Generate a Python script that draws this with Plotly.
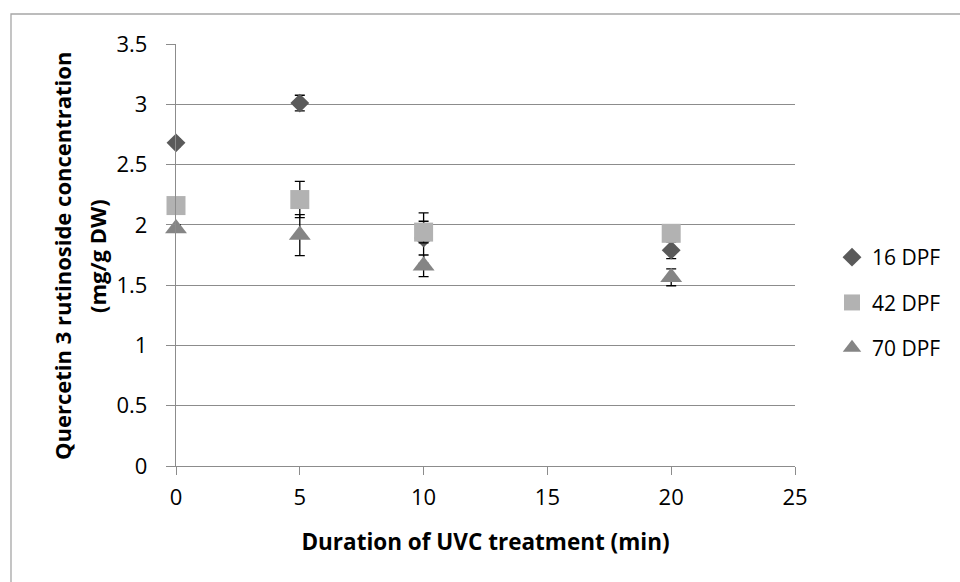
import plotly.graph_objects as go

# ---- data ----
durations = [0, 5, 10, 20]
series_names = ["16 DPF", "42 DPF", "70 DPF"]
dpf16 = [2.68, 3.01, 1.89, 1.79]
dpf16_err = [0.03, 0.065, 0.21, 0.07]
dpf42 = [2.16, 2.21, 1.94, 1.93]
dpf42_err = [0.03, 0.15, 0.09, 0.03]
dpf70 = [1.97, 1.915, 1.66, 1.565]
dpf70_err = [0.03, 0.17, 0.09, 0.07]
y_ticks = [0, 0.5, 1, 1.5, 2, 2.5, 3, 3.5]
x_ticks = [0, 5, 10, 15, 20, 25]
x_title = "Duration of UVC treatment (min)"
y_title_lines = ["Quercetin 3 rutinoside concentration", "(mg/g DW)"]

FONT = "Open Sans"
W, H = 960, 582
L, R, T, B = 176, 165, 44, 116
PW, PH = W - L - R, H - T - B


def px_x(p):
    return (p - L) / PW


def px_y(p):
    return (H - B - p) / PH


styles = [
    dict(symbol="diamond", size=14.5, color="#5a5a5a"),
    dict(symbol="square", size=19, color="#b2b2b2"),
    dict(symbol="triangle-up", size=19, color="#858585"),
]
values = [dpf16, dpf42, dpf70]
errors = [dpf16_err, dpf42_err, dpf70_err]

fig = go.Figure()
for name, vals, errs, st in zip(series_names, values, errors, styles):
    fig.add_trace(go.Scatter(
        x=durations, y=vals, name=name, mode="markers",
        legendgroup=name, cliponaxis=False,
        marker=dict(symbol=st["symbol"], size=st["size"], color=st["color"],
                    line=dict(width=0)),
        error_y=dict(type="data", array=errs, visible=True,
                     color="#000000", thickness=1.3, width=5),
    ))

axis_color = "#8c8c8c"
fig.update_layout(
    width=W, height=H,
    margin=dict(l=L, r=R, t=T, b=B, pad=0),
    paper_bgcolor="white", plot_bgcolor="white",
    font=dict(family=FONT, size=21, color="#000000"),
    showlegend=True,
    legend=dict(x=px_x(832), y=px_y(237), xanchor="left", yanchor="top",
                traceorder="grouped", tracegroupgap=15,
                font=dict(family=FONT, size=21, color="#000000"),
                bgcolor="rgba(0,0,0,0)", borderwidth=0),
    xaxis=dict(range=[0, 25], tickvals=x_ticks, showgrid=False, zeroline=False,
               showline=True, linecolor=axis_color, linewidth=1.3,
               ticks="outside", ticklen=8, tickcolor=axis_color, tickwidth=1.3,
               tickfont=dict(family=FONT, size=22, color="#000000"),
               ticklabelstandoff=3,
               title=dict(text="<b>" + x_title + "</b>", standoff=24,
                          font=dict(family=FONT, size=22.5, color="#000000"))),
    yaxis=dict(range=[0, 3.5], tickvals=y_ticks, showgrid=True, gridcolor=axis_color,
               gridwidth=1.3, zeroline=False,
               showline=True, linecolor=axis_color, linewidth=1.3,
               ticks="outside", ticklen=9, tickcolor=axis_color, tickwidth=1.3,
               tickfont=dict(family=FONT, size=22, color="#000000"),
               ticklabelstandoff=14),
    shapes=[dict(type="rect", xref="paper", yref="paper",
                 x0=px_x(11), y0=px_y(590), x1=px_x(975), y1=px_y(14),
                 line=dict(color="#a6a6a6", width=1.3), fillcolor="rgba(0,0,0,0)",
                 layer="below")],
    annotations=[
        dict(text="<b>" + y_title_lines[0] + "</b>", xref="paper", yref="paper",
             x=px_x(62), y=px_y(256), xanchor="center", yanchor="middle",
             textangle=-90, showarrow=False,
             font=dict(family=FONT, size=22, color="#000000")),
        dict(text="<b>" + y_title_lines[1] + "</b>", xref="paper", yref="paper",
             x=px_x(97), y=px_y(256), xanchor="center", yanchor="middle",
             textangle=-90, showarrow=False,
             font=dict(family=FONT, size=22, color="#000000")),
    ],
)

fig.write_html("out.html")
